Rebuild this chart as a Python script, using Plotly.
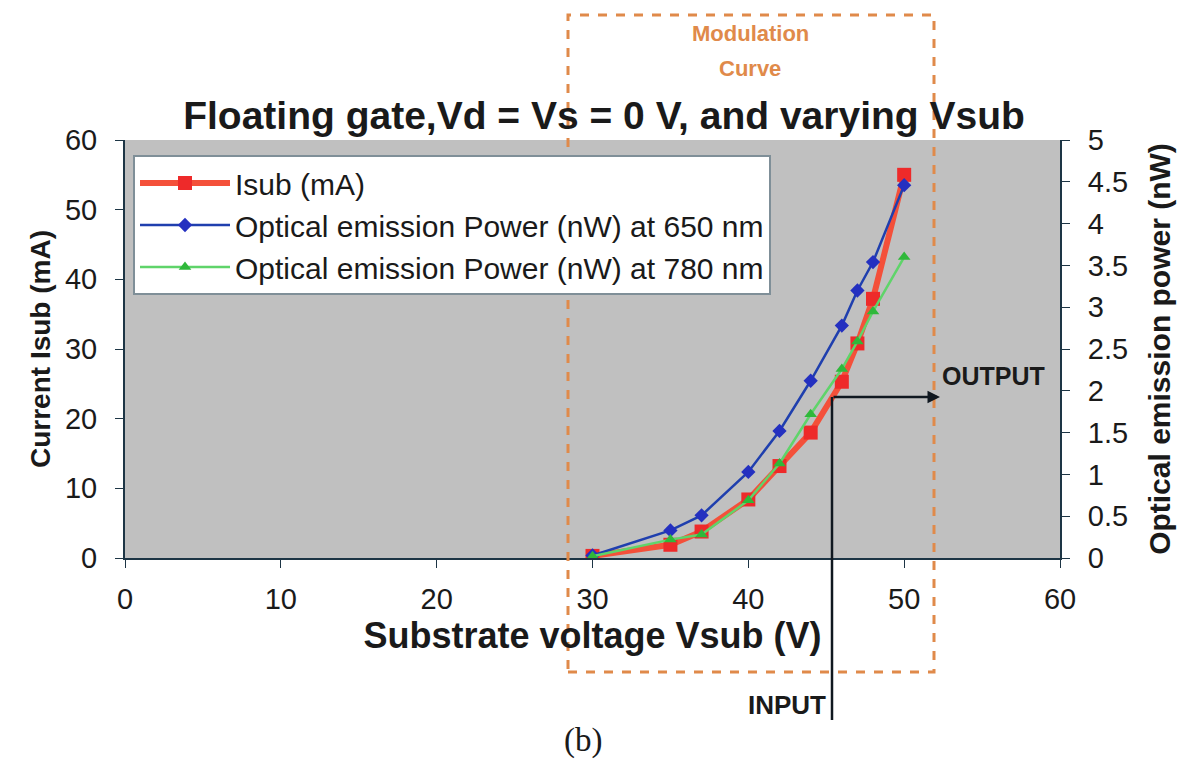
import plotly.graph_objects as go

# ---- data ----
vsub = [30, 35, 37, 40, 42, 44, 46, 47, 48, 50]
isub_ma = [0.3, 1.9, 3.8, 8.4, 13.2, 18.0, 25.3, 30.8, 37.2, 55.0]
p650_nw = [0.03, 0.33, 0.51, 1.03, 1.52, 2.12, 2.78, 3.20, 3.54, 4.46]
p780_nw = [0.02, 0.22, 0.28, 0.69, 1.13, 1.72, 2.26, 2.59, 2.95, 3.60]

x_ticks = [0, 10, 20, 30, 40, 50, 60]
y_ticks = [0, 10, 20, 30, 40, 50, 60]
y2_ticks = [0, 0.5, 1, 1.5, 2, 2.5, 3, 3.5, 4, 4.5, 5]
y2_labels = ["0", "0.5", "1", "1.5", "2", "2.5", "3", "3.5", "4", "4.5", "5"]

FONT = "Liberation Sans, Arial, sans-serif"
AXC = "#1d3545"
ORANGE = "#e08a4a"

fig = go.Figure()
fig.add_trace(go.Scatter(
    x=vsub, y=isub_ma, name="Isub (mA)", mode="lines+markers",
    line=dict(color="#f4503a", width=6),
    marker=dict(symbol="square", size=14, color="#ee2a2a"),
))
fig.add_trace(go.Scatter(
    x=vsub, y=p650_nw, name="Optical emission Power (nW) at 650 nm",
    mode="lines+markers", yaxis="y2",
    line=dict(color="#1f3fae", width=2.5),
    marker=dict(symbol="diamond", size=11, color="#2430c0"),
))
fig.add_trace(go.Scatter(
    x=vsub, y=p780_nw, name="Optical emission Power (nW) at 780 nm",
    mode="lines+markers", yaxis="y2",
    line=dict(color="#5fd46a", width=2.5),
    marker=dict(symbol="triangle-up", size=11, color="#2fb83a"),
))

L, R, T, B = 125, 123, 140, 205
W, H = 1183, 763
pw, ph = W - L - R, H - T - B


def px(xp):
    return (xp - L) / pw


def py(yp):
    return (H - B - yp) / ph


fig.update_layout(
    width=W, height=H,
    margin=dict(l=L, r=R, t=T, b=B),
    paper_bgcolor="white",
    plot_bgcolor="#c0c0c0",
    font=dict(family=FONT, color="#1a1a1a", size=26),
    title=dict(
        text="<b>Floating gate,Vd = Vs = 0 V, and varying Vsub</b>",
        x=604 / W, xanchor="center", y=1 - 115 / H, yanchor="middle",
        yref="container", font=dict(size=39, family=FONT, color="#1a1a1a"),
    ),
    xaxis=dict(
        range=[0, 60], tickvals=x_ticks, showgrid=False, zeroline=False,
        showline=True, linecolor=AXC, linewidth=2, ticks="outside",
        ticklen=8, tickcolor=AXC, tickfont=dict(size=29),
        ticklabelstandoff=6,
        title=dict(text="<b>Substrate voltage Vsub (V)</b>",
                   font=dict(size=36), standoff=0),
    ),
    yaxis=dict(
        range=[0, 60], tickvals=y_ticks, showgrid=False, zeroline=False,
        showline=True, linecolor=AXC, linewidth=2, ticks="outside",
        ticklen=8, tickcolor=AXC, tickfont=dict(size=29),
        ticklabelstandoff=12,
        title=dict(text="<b>Current Isub (mA)</b>", font=dict(size=28),
                   standoff=6),
    ),
    yaxis2=dict(
        range=[0, 5], tickvals=y2_ticks, ticktext=y2_labels, overlaying="y",
        side="right", showgrid=False, zeroline=False, showline=True,
        linecolor=AXC, linewidth=2, ticks="outside", ticklen=8,
        tickcolor=AXC, tickfont=dict(size=29), ticklabelstandoff=12,
        title=dict(text="<b>Optical emission power (nW)</b>",
                   font=dict(size=30), standoff=22),
    ),
    legend=dict(
        x=px(133), y=py(155), xanchor="left", yanchor="top",
        bgcolor="white", bordercolor="#7f8f98", borderwidth=2,
        font=dict(size=30, family=FONT), tracegroupgap=0,
        itemwidth=90,
    ),
    showlegend=True,
)

# Modulation curve dashed box
fig.add_shape(type="rect", xref="paper", yref="paper",
              x0=px(568), x1=px(934), y0=py(672), y1=py(15),
              line=dict(color=ORANGE, width=3, dash="dash"),
              fillcolor="rgba(0,0,0,0)", layer="above")

fig.add_annotation(xref="paper", yref="paper", x=px(750), y=py(33),
                   xanchor="center", yanchor="middle",
                   text="<b>Modulation</b>", showarrow=False,
                   font=dict(size=22, color=ORANGE, family=FONT))
fig.add_annotation(xref="paper", yref="paper", x=px(750), y=py(68),
                   xanchor="center", yanchor="middle",
                   text="<b>Curve</b>", showarrow=False,
                   font=dict(size=22, color=ORANGE, family=FONT))

# INPUT vertical line and OUTPUT arrow
x_in = (832 - L) / pw * 60
y_out = (H - B - 397) / ph * 60
fig.add_shape(type="line", xref="x", yref="paper",
              x0=x_in, x1=x_in, y0=py(720), y1=py(397),
              line=dict(color="#101820", width=2.5), layer="above")
fig.add_annotation(xref="x", yref="y", axref="x", ayref="y",
                   x=(940 - L) / pw * 60, y=y_out, ax=x_in, ay=y_out,
                   text="", showarrow=True, arrowhead=2, arrowsize=1,
                   arrowwidth=2.5, arrowcolor="#101820")
fig.add_annotation(xref="paper", yref="paper", x=px(940), y=py(376),
                   xanchor="left", yanchor="middle", text="<b>OUTPUT</b>",
                   showarrow=False,
                   font=dict(size=25, color="#1a1a1a", family=FONT))
fig.add_annotation(xref="paper", yref="paper", x=px(828), y=py(705),
                   xanchor="right", yanchor="middle", text="<b>INPUT</b>",
                   showarrow=False,
                   font=dict(size=26, color="#1a1a1a", family=FONT))
fig.add_annotation(xref="paper", yref="paper", x=px(583), y=py(740),
                   xanchor="center", yanchor="middle",
                   text="(b)", showarrow=False,
                   font=dict(size=33, color="#1a1a1a",
                             family="Liberation Serif, Times New Roman, serif"))

fig.write_html("out.html")
